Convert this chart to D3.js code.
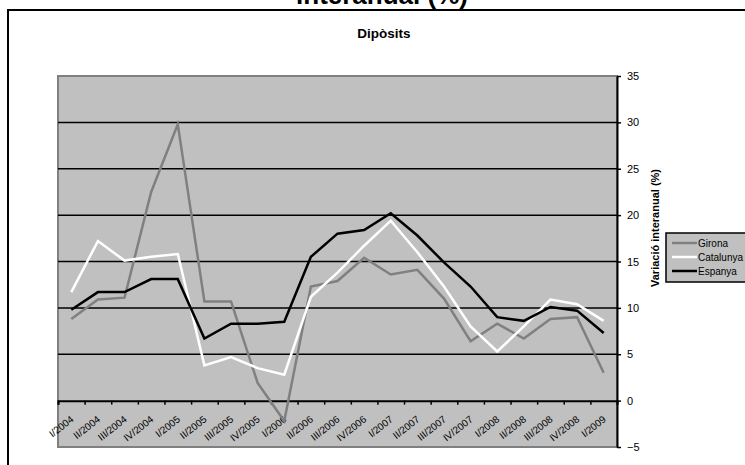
<!DOCTYPE html>
<html>
<head>
<meta charset="utf-8">
<script src="https://cdn.jsdelivr.net/npm/d3@7"></script>
<style>
  html, body { margin: 0; padding: 0; background: #fff; }
  svg { display: block; font-family: Arial, "Liberation Sans", sans-serif; }
</style>
</head>
<body>
<svg id="chart" width="745" height="465"></svg>
<script>
const categories = ["I/2004","II/2004","III/2004","IV/2004","I/2005","II/2005","III/2005","IV/2005",
  "I/2006","II/2006","III/2006","IV/2006","I/2007","II/2007","III/2007","IV/2007",
  "I/2008","II/2008","III/2008","IV/2008","I/2009"];
const girona    = [8.8, 10.9, 11.1, 22.5, 29.8, 10.7, 10.7, 1.9, -2.2, 12.3, 12.9, 15.4, 13.6, 14.1, 11.0, 6.4, 8.3, 6.7, 8.8, 9.0, 3.0];
const catalunya = [11.7, 17.2, 15.1, 15.5, 15.8, 3.8, 4.7, 3.5, 2.8, 11.2, 13.8, 16.7, 19.4, 16.0, 12.3, 8.0, 5.3, 8.0, 10.9, 10.4, 8.6];
const espanya   = [9.8, 11.7, 11.7, 13.1, 13.1, 6.7, 8.3, 8.3, 8.5, 15.5, 18.0, 18.4, 20.2, 17.8, 14.9, 12.3, 9.0, 8.6, 10.1, 9.7, 7.3];
const yTicks = [-5, 0, 5, 10, 15, 20, 25, 30, 35];
const seriesNames = ["Girona", "Catalunya", "Espanya"];
const seriesColors = ["#808080", "#ffffff", "#000000"];
const pageTitle = "interanual (%)";
const chartTitle = "Dipòsits";
const yTitle = "Variació interanual (%)";

const svg = d3.select("#chart");
const L = 58, R = 617, T = 76, B = 447;

// outer frame
svg.append("rect").attr("x", 8).attr("y", 10).attr("width", 800).attr("height", 500)
  .attr("fill", "#fff").attr("stroke", "#000").attr("stroke-width", 2);

// page title (cut off at top)
svg.append("text").attr("x", 382).attr("y", 4).attr("text-anchor", "middle")
  .attr("font-size", 26).attr("font-weight", "bold").text(pageTitle);

svg.append("text").attr("x", 384).attr("y", 38).attr("text-anchor", "middle")
  .attr("font-size", 13.5).attr("font-weight", "bold").text(chartTitle);

const x = d3.scalePoint().domain(categories).range([L, R]).padding(0.5);
const xb = d3.scaleLinear().domain([0, categories.length]).range([L, R]);
const y = d3.scaleLinear().domain([-5, 35]).range([B, T]);

// plot area
svg.append("rect").attr("x", L).attr("y", T).attr("width", R - L).attr("height", B - T)
  .attr("fill", "#c0c0c0").attr("stroke", "#808080").attr("stroke-width", 2);

// gridlines
svg.append("g").selectAll("line").data(yTicks.filter(v => v > 0 && v < 35)).join("line")
  .attr("x1", L).attr("x2", R).attr("y1", d => y(d)).attr("y2", d => y(d))
  .attr("stroke", "#000").attr("stroke-width", 1.5);

// x axis at 0
const xAxis = d3.axisBottom(xb).tickValues(d3.range(0, categories.length + 1)).tickSize(4).tickFormat("");
const gx = svg.append("g").attr("transform", `translate(0,${y(0)})`).call(xAxis);
gx.select(".domain").attr("stroke", "#000").attr("stroke-width", 2);
gx.selectAll(".tick line").attr("stroke", "#000").attr("stroke-width", 1.5);

svg.append("g").selectAll("text").data(categories).join("text")
  .attr("transform", d => `translate(${x(d) + 3},${y(0) + 20}) rotate(-38)`)
  .attr("text-anchor", "end").attr("font-size", 10).attr("fill", "#000").text(d => d);

// y axis on right
const yAxis = d3.axisRight(y).tickValues(yTicks).tickSize(4).tickPadding(6).tickSizeOuter(0);
const gy = svg.append("g").attr("transform", `translate(${R},0)`).call(yAxis);
gy.select(".domain").attr("stroke", "#000").attr("stroke-width", 2);
gy.selectAll(".tick line").attr("stroke", "#000").attr("stroke-width", 1.5);
gy.selectAll(".tick text").attr("font-size", 11).attr("font-family", "Arial, 'Liberation Sans', sans-serif").attr("fill", "#000");

svg.append("text").attr("transform", "translate(659,228) rotate(-90)")
  .attr("text-anchor", "middle").attr("font-size", 11).attr("font-weight", "bold").text(yTitle);

// series
const line = d3.line().x((d, i) => x(categories[i])).y(d => y(d));
[girona, catalunya, espanya].forEach((s, k) => {
  svg.append("path").datum(s).attr("d", line).attr("fill", "none")
    .attr("stroke", seriesColors[k]).attr("stroke-width", 2.5).attr("stroke-linejoin", "miter");
});

// legend
const lg = svg.append("g");
lg.append("rect").attr("x", 666).attr("y", 233).attr("width", 120).attr("height", 49)
  .attr("fill", "#c0c0c0").attr("stroke", "#000").attr("stroke-width", 1.5);
seriesNames.forEach((n, i) => {
  const yy = 243 + i * 14;
  lg.append("line").attr("x1", 672).attr("x2", 697).attr("y1", yy).attr("y2", yy)
    .attr("stroke", seriesColors[i]).attr("stroke-width", 2.5);
  lg.append("text").attr("x", 698).attr("y", yy + 3.5).attr("font-size", 10).text(n);
});
</script>
</body>
</html>
